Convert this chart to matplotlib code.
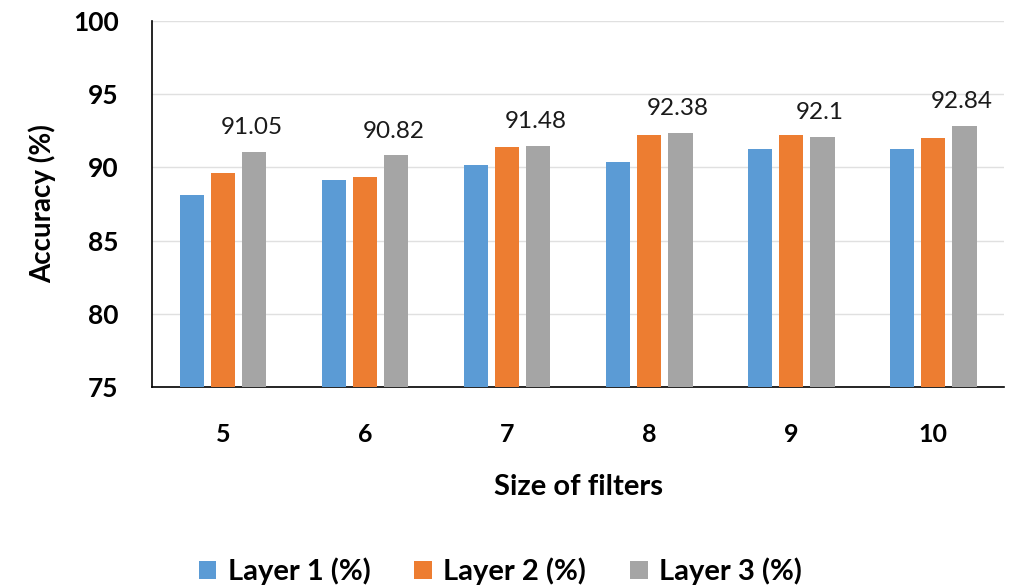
import numpy as np
import matplotlib.pyplot as plt

plt.rcParams['font.family'] = ['Lato', 'DejaVu Sans']

filter_sizes = ['5', '6', '7', '8', '9', '10']
layer1 = [88.12, 89.14, 90.18, 90.39, 91.25, 91.25]
layer2 = [89.59, 89.32, 91.41, 92.20, 92.20, 92.00]
layer3 = [91.05, 90.82, 91.48, 92.38, 92.10, 92.84]
series_names = ['Layer 1 (%)', 'Layer 2 (%)', 'Layer 3 (%)']
colors = ['#5B9BD5', '#ED7D31', '#A5A5A5']

fig = plt.figure(figsize=(10.17, 5.88), dpi=100)
ax = fig.add_axes([0.1495, 0.342, 0.838, 0.622])

x = np.arange(len(filter_sizes))
width = 0.17
step = 0.22
for i, (vals, name, c) in enumerate(zip([layer1, layer2, layer3], series_names, colors)):
    ax.bar(x + (i - 1) * step, np.array(vals) - 75, width, bottom=75,
           color=c, label=name, zorder=3)

# value labels on the third layer only
for xi, v in zip(x, layer3):
    ax.annotate(f'{v:g}', (xi + step, v), xytext=(-2, 10), textcoords='offset points',
                ha='center', va='bottom', fontsize=17.5, color='#1a1a1a')

ax.set_ylim(75, 100)
ax.set_xlim(-0.5, len(filter_sizes) - 0.5)
ax.set_yticks([75, 80, 85, 90, 95, 100])
ax.set_xticks(x)
ax.set_xticklabels(filter_sizes)
ax.tick_params(axis='x', length=0, labelsize=18, pad=26)
ax.tick_params(axis='y', length=0, labelsize=19, pad=24)
for lab in ax.get_xticklabels() + ax.get_yticklabels():
    lab.set_fontweight('bold')

ax.grid(axis='y', color='#e0e0e0', linewidth=1, zorder=0)
for s in ['top', 'right']:
    ax.spines[s].set_visible(False)
ax.spines['left'].set_color('black')
ax.spines['bottom'].set_color('black')
ax.spines['left'].set_linewidth(1.2)
ax.spines['bottom'].set_linewidth(1.2)

ax.set_xlabel('Size of filters', fontsize=21, fontweight='bold', labelpad=20)
ax.set_ylabel('Accuracy (%)', fontsize=20, fontweight='bold', labelpad=12)

fig.legend(loc='center', bbox_to_anchor=(0.492, 0.028), ncol=3, frameon=False,
           prop={'size': 21, 'weight': 'bold'}, handlelength=0.6, handleheight=0.6,
           columnspacing=1.5, handletextpad=0.4)

fig.savefig('out.png', dpi=100)
